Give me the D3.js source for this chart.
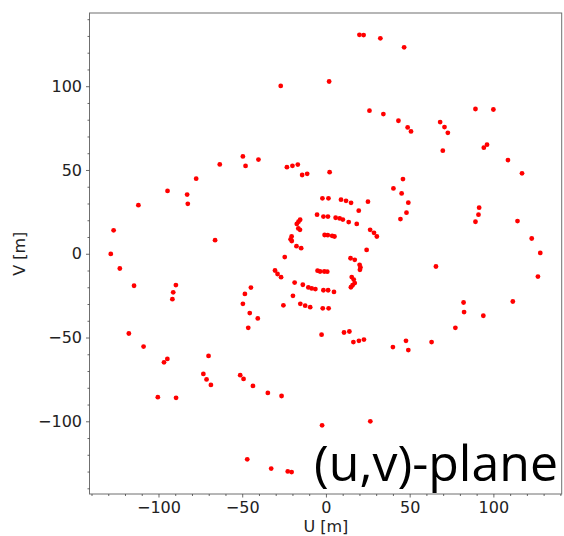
<!DOCTYPE html>
<html>
<head>
<meta charset="utf-8">
<script src="https://cdn.jsdelivr.net/npm/d3@7"></script>
<style>
  html, body { margin: 0; padding: 0; background: #fff; }
  svg { display: block; }
</style>
</head>
<body>
<svg id="chart" width="564" height="536"></svg>
<script>
// ---- data ----
const uValues = [
  20.0, 22.5, 32.5, 46.7, -27.0, 1.9, 26.0, 34.3, 43.3, 48.8, 50.8, 68.2, 70.8, 72.8, 69.8, 89.3, 100.0, 94.3, 96.2, 108.7,
  117.1, 114.4, 122.9, 128.0, 126.6, 111.6, 91.5, 91.1, 89.3, 65.7, 82.2, 82.5, 94.0, 77.3, 63.1, 47.8, 49.2, 40.0, 10.8, 14.0,
  16.4, 19.7, 22.7, -2.6, -2.3, 26.5, -47.0, -32.7, -22.8, -20.5, -100.4, -89.5, -51.2, -49.2, -43.6, -34.7, -26.5, -70.1, -73.2, -71.3,
  -68.7, -96.7, -94.7, -117.7, -108.9, -128.5, -123.1, -114.6, -89.6, -91.2, -91.7, -126.8, -112.0, -94.6, -82.9, -82.5, -77.5, -66.2, -63.4, -49.6,
  -48.0, -40.3, -23.3, -20.0, -16.8, -14.2, -11.2, 2.2, 40.3, 46.0, 45.2, 49.2, 48.1, 44.5,
  -44.8, -48.4, -49.6, -45.5, -40.7, -46.4, -25.4, -24.6,
  -2.1, 1.5, 9.0, 12.0, 15.0, 25.1, 19.6, 18.4, 26.4, 28.7, 30.4, 24.3, -5.3, -1.5, 1.2, 5.8, 8.2, 10.1, 13.6, -15.4,
  -16.4, -17.4, -16.5, -15.5, -0.8, 1.1, 3.7, 5.1, -20.5, -21.1, -20.4, -17.6, -14.8, 14.7, 17.2, 20.1, 20.6, 20.3, 15.4, 16.6,
  17.2, 15.9, 14.9, -30.4, -28.9, -26.8, -18.7, -13.8, -10.5, -8.5, -6.3, -5.0, -3.5, -1.0, 0.8, -1.5, 1.3, 4.8, -19.7, -15.3,
  -12.4, -9.4, -1.9, 1.6
];
const vValues = [
  130.7, 130.5, 128.6, 123.2, 100.2, 102.8, 85.4, 83.4, 79.4, 75.4, 73.0, 78.6, 75.6, 72.2, 61.5, 86.4, 86.1, 63.3, 65.1, 55.9,
  48.0, 19.5, 9.1, 0.5, -13.6, -28.5, 27.5, 23.3, 19.1, -7.6, -29.1, -34.8, -37.0, -44.2, -52.7, -52.0, -57.5, -55.7, -47.0, -46.4,
  -52.7, -52.0, -51.2, -48.3, -102.4, -100.0, -122.7, -128.2, -129.9, -130.3, -85.6, -86.0, -72.5, -74.7, -78.9, -83.1, -84.9, -61.0, -71.7, -75.0,
  -78.3, -64.8, -62.8, -47.6, -55.4, -0.1, -8.8, -19.1, -18.7, -23.0, -27.1, 14.0, 29.0, 37.5, 35.3, 29.8, 44.8, 8.1, 53.3, 58.1,
  52.4, 56.2, 51.7, 52.5, 53.2, 47.0, 47.7, 48.7, 39.0, 44.6, 36.0, 30.5, 24.5, 20.7,
  -20.2, -24.0, -29.9, -35.4, -38.6, -44.2, -30.8, -2.0,
  33.1, 33.1, 32.3, 31.6, 30.4, 31.1, 25.7, 17.8, 14.3, 12.5, 10.3, 2.3, 23.3, 22.2, 22.2, 21.5, 21.1, 20.4, 18.9, 20.3,
  19.1, 17.8, 15.1, 14.3, 11.2, 11.1, 10.7, 10.3, 10.3, 8.6, 7.6, 4.5, 3.3, -2.7, -3.6, -6.6, -8.2, -9.6, -13.9, -15.4,
  -17.5, -18.8, -20.0, -10.0, -12.1, -14.0, -17.2, -18.5, -20.1, -20.7, -21.1, -10.1, -10.6, -10.6, -10.7, -21.8, -21.8, -22.8, -25.1, -29.9,
  -31.0, -31.9, -32.6, -32.6
];
const majorTicks = [-100, -50, 0, 50, 100];
const minorTicks = [-140, -130, -120, -110, -90, -80, -70, -60, -40, -30, -20, -10, 10, 20, 30, 40, 60, 70, 80, 90, 110, 120, 130, 140];
const xLabel = "U [m]";
const yLabel = "V [m]";
const planeTitle = "(u,v)-plane";

// ---- layout ----
const svg = d3.select("#chart");
const pLeft = 89.5, pRight = 561.7, pTop = 13, pBottom = 494;
const x = d3.scaleLinear().domain([-141.2, 140.8]).range([pLeft, pRight]);
const y = d3.scaleLinear().domain([-143.4, 143.7]).range([pBottom, pTop]);

const tickFont = "'DejaVu Sans', sans-serif";
const fmtMinus = d => (d < 0 ? "\u2212" + Math.abs(d) : String(d));

// points
const pts = uValues.map((u, i) => ({ u, v: vValues[i] }));
svg.append("g")
  .selectAll("circle")
  .data(pts)
  .join("circle")
  .attr("cx", d => x(d.u))
  .attr("cy", d => y(d.v))
  .attr("r", 2.4)
  .attr("fill", "#ff0000");

// frame
svg.append("rect")
  .attr("x", pLeft).attr("y", pTop)
  .attr("width", pRight - pLeft).attr("height", pBottom - pTop)
  .attr("fill", "none").attr("stroke", "#6f6f6f").attr("stroke-width", 1);

// axes - major
const xAxis = svg.append("g").attr("transform", `translate(0,${pBottom})`)
  .call(d3.axisBottom(x).tickValues(majorTicks).tickFormat(fmtMinus).tickSize(3.5).tickPadding(4.5));
const yAxis = svg.append("g").attr("transform", `translate(${pLeft},0)`)
  .call(d3.axisLeft(y).tickValues(majorTicks).tickFormat(fmtMinus).tickSize(3.5).tickPadding(4));
// axes - minor
const xMinor = svg.append("g").attr("transform", `translate(0,${pBottom})`)
  .call(d3.axisBottom(x).tickValues(minorTicks.filter(t => t > -141.2 && t < 140.8)).tickFormat("").tickSize(2));
const yMinor = svg.append("g").attr("transform", `translate(${pLeft},0)`)
  .call(d3.axisLeft(y).tickValues(minorTicks).tickFormat("").tickSize(2));

[xAxis, yAxis, xMinor, yMinor].forEach(g => {
  g.select(".domain").remove();
  g.selectAll(".tick line").attr("stroke", "#444").attr("stroke-width", 0.8);
  g.selectAll(".tick text").attr("fill", "#222").style("font-family", tickFont).style("font-size", "16px");
});

// axis labels
svg.append("text")
  .attr("x", x(0)).attr("y", 532)
  .attr("text-anchor", "middle")
  .style("font-family", tickFont).style("font-size", "16px").attr("fill", "#222")
  .text(xLabel);
svg.append("text")
  .attr("transform", `translate(25,${y(0)}) rotate(-90)`)
  .attr("text-anchor", "middle")
  .style("font-family", tickFont).style("font-size", "16px").attr("fill", "#222")
  .text(yLabel);

// big label
svg.append("text")
  .attr("x", 558).attr("y", 481)
  .attr("text-anchor", "end")
  .style("font-family", "'Open Sans', sans-serif").style("font-size", "50px").attr("fill", "#000")
  .text(planeTitle);
</script>
</body>
</html>
